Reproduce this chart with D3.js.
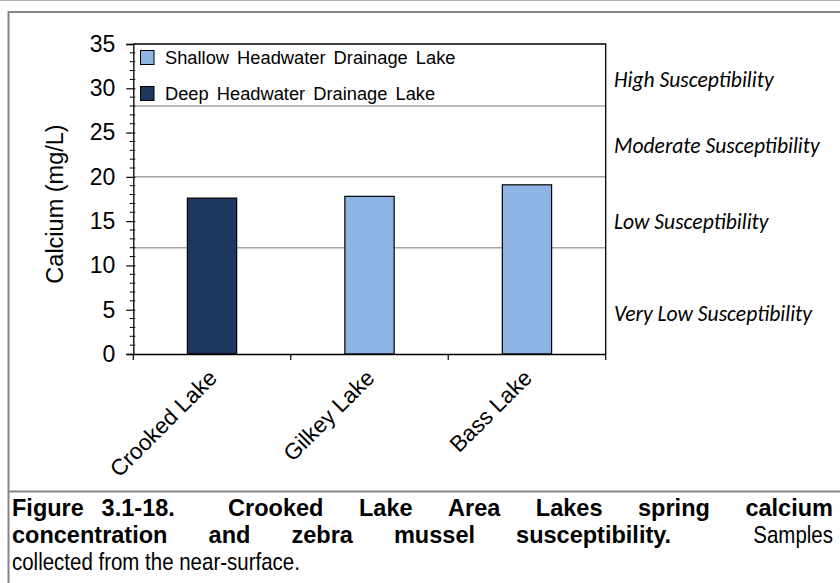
<!DOCTYPE html>
<html><head><meta charset="utf-8">
<script src="https://cdn.jsdelivr.net/npm/d3@7"></script>
<style>
html,body{margin:0;padding:0;background:#fff;}
svg{display:block;}
</style>
</head><body>
<svg id="chart" width="840" height="583"></svg>
<script>
// ---- data ----
const lakes = ["Crooked Lake", "Gilkey Lake", "Bass Lake"];
const calcium = [17.6, 17.8, 19.1];
const lakeTypes = ["Deep Headwater Drainage Lake", "Shallow Headwater Drainage Lake", "Shallow Headwater Drainage Lake"];
const legendItems = ["Shallow Headwater Drainage Lake", "Deep Headwater Drainage Lake"];
const typeColors = ["#8eb4e3", "#1c385e"];
const yTicks = [0, 5, 10, 15, 20, 25, 30, 35];
const thresholds = [12, 20, 28];
const zoneLabels = ["High Susceptibility", "Moderate Susceptibility", "Low Susceptibility", "Very Low Susceptibility"];
const zoneLabelAt = [31, 23.5, 15, 4.6];
const yTitle = "Calcium (mg/L)";
const captionLine1 = ["Figure", "3.1-18.", "Crooked", "Lake", "Area", "Lakes", "spring", "calcium"];
const captionLine1Gaps = [0.5, 1.5, 1, 1, 1, 1, 1];
const captionLine2 = ["concentration", "and", "zebra", "mussel", "susceptibility.", "Samples"];
const captionLine2Gaps = [1, 1, 1, 1, 2];
const captionLine3 = "collected from the near-surface.";

// ---- layout ----
const SANS = "'Liberation Sans', Arial, Arimo, sans-serif";
const svg = d3.select("#chart");
const plot = {left: 133.3, right: 605.7, top: 44, bottom: 354};
const y = d3.scaleLinear().domain([0, 35]).range([plot.bottom, plot.top]);
const x = d3.scaleBand().domain(lakes).range([plot.left, plot.right]).padding(0);
const color = d3.scaleOrdinal().domain(legendItems).range(typeColors);
const barFrac = 0.313;

// frames
svg.append("line").attr("x1", 0).attr("x2", 840).attr("y1", 0.5).attr("y2", 0.5)
  .attr("stroke", "#b0b0b0").attr("stroke-width", 1);
svg.append("line").attr("x1", 8.5).attr("x2", 840).attr("y1", 12).attr("y2", 12)
  .attr("stroke", "#858585").attr("stroke-width", 2);
svg.append("line").attr("x1", 8.5).attr("x2", 8.5).attr("y1", 11).attr("y2", 583)
  .attr("stroke", "#858585").attr("stroke-width", 2);
svg.append("line").attr("x1", 8.5).attr("x2", 840).attr("y1", 491.5).attr("y2", 491.5)
  .attr("stroke", "#858585").attr("stroke-width", 2);

// threshold lines
svg.append("g").selectAll("line").data(thresholds).join("line")
  .attr("x1", plot.left).attr("x2", plot.right)
  .attr("y1", d => y(d)).attr("y2", d => y(d))
  .attr("stroke", "#a6a6a6").attr("stroke-width", 1.5);

// plot border top/right
svg.append("path")
  .attr("d", `M${plot.left},${plot.top}H${plot.right}V${plot.bottom}`)
  .attr("fill", "none").attr("stroke", "#000").attr("stroke-width", 1.3);

// bars
svg.append("g").selectAll("rect").data(lakes).join("rect")
  .attr("x", d => x(d) + x.bandwidth() * (1 - barFrac) / 2)
  .attr("width", x.bandwidth() * barFrac)
  .attr("y", (d, i) => y(calcium[i]))
  .attr("height", (d, i) => y(0) - y(calcium[i]))
  .attr("fill", (d, i) => color(lakeTypes[i]))
  .attr("stroke", "#000").attr("stroke-width", 1.2);

// y axis
const yAxis = d3.axisLeft(y).tickValues(yTicks).tickSize(7).tickPadding(11);
const yg = svg.append("g").attr("transform", `translate(${plot.left},0)`).call(yAxis);
yg.select(".domain").attr("stroke", "#000").attr("stroke-width", 1.3);
yg.selectAll(".tick line").attr("stroke", "#000").attr("stroke-width", 1.2).attr("x2", -7).attr("x1", 2);
yg.selectAll(".tick text").attr("font-family", SANS)
  .attr("font-size", 23).attr("fill", "#000").attr("x", -18);
// minor ticks
const minor = d3.range(0, 36).filter(v => v % 5 !== 0);
svg.append("g").selectAll("line").data(minor).join("line")
  .attr("x1", plot.left - 3.5).attr("x2", plot.left + 2)
  .attr("y1", d => y(d)).attr("y2", d => y(d))
  .attr("stroke", "#000").attr("stroke-width", 1);

// x axis
const xAxis = d3.axisBottom(x).tickSize(0).tickFormat("");
const xg = svg.append("g").attr("transform", `translate(0,${plot.bottom})`).call(xAxis);
xg.select(".domain").attr("stroke", "#000").attr("stroke-width", 1.3);
// category separators
const seps = [plot.left, ...lakes.slice(1).map(d => x(d)), plot.right];
svg.append("g").selectAll("line").data(seps).join("line")
  .attr("x1", d => d).attr("x2", d => d)
  .attr("y1", plot.bottom).attr("y2", plot.bottom + 6)
  .attr("stroke", "#000").attr("stroke-width", 1.2);
// rotated labels
svg.append("g").selectAll("text").data(lakes).join("text")
  .attr("transform", d => `translate(${x(d) + x.bandwidth() / 2 - 5},${plot.bottom + 14}) rotate(-45)`)
  .attr("text-anchor", "end").attr("dy", "0.71em")
  .attr("font-family", SANS).attr("font-size", 22.5)
  .text(d => d);

// y title
svg.append("text")
  .attr("transform", `translate(55,${(plot.top + plot.bottom) / 2 + 5}) rotate(-90)`)
  .attr("text-anchor", "middle").attr("dy", "0.35em")
  .attr("font-family", SANS).attr("font-size", 23.5)
  .text(yTitle);

// legend
const lg = svg.append("g").selectAll("g").data(legendItems).join("g")
  .attr("transform", (d, i) => `translate(140.5,${50.5 + i * 36})`);
lg.append("rect").attr("width", 13.5).attr("height", 14)
  .attr("fill", d => color(d)).attr("stroke", "#000").attr("stroke-width", 1);
lg.append("text").attr("x", 24.5).attr("y", 13.5)
  .attr("font-family", SANS).attr("font-size", 18.3).attr("word-spacing", 3)
  .text(d => d);

// zone labels (italic Calibri-like), sized to the reference widths
const zoneFont = "Carlito, Lato, 'Open Sans', sans-serif";
const zoneTargetTotal = 718;
const zt = svg.append("g").selectAll("text").data(zoneLabels).join("text")
  .attr("x", 614).attr("y", (d, i) => y(zoneLabelAt[i]))
  .attr("dy", "0.35em")
  .attr("font-family", zoneFont)
  .attr("font-style", "italic").attr("font-size", 20)
  .text(d => d);
let zsum = 0; zt.each(function () { zsum += this.getComputedTextLength(); });
zt.attr("font-size", 20 * zoneTargetTotal / zsum);

// caption (justified)
const capSize = 24, sxBold = 0.98;
const probe = svg.append("text").attr("font-family", SANS).attr("font-size", capSize).text(captionLine3);
const sxReg = 288 / probe.node().getComputedTextLength();
probe.remove();
function justify(words, gaps, yPos, weights, x0, x1) {
  const g = svg.append("g");
  const nodes = words.map((w, i) => g.append("text")
    .attr("font-family", SANS).attr("font-size", capSize)
    .attr("font-weight", weights[i]).text(w));
  const scales = weights.map(wt => wt === "bold" ? sxBold : sxReg);
  const widths = nodes.map((n, i) => n.node().getComputedTextLength() * scales[i]);
  const unit = (x1 - x0 - d3.sum(widths)) / d3.sum(gaps);
  let cx = x0;
  nodes.forEach((n, i) => {
    n.attr("transform", `translate(${cx},${yPos}) scale(${scales[i]},1)`);
    cx += widths[i] + (gaps[i] || 0) * unit;
  });
}
justify(captionLine1, captionLine1Gaps, 516, captionLine1.map(() => "bold"), 12, 833);
justify(captionLine2, captionLine2Gaps, 543, captionLine2.map((w, i) => i < captionLine2.length - 1 ? "bold" : "normal"), 12, 833);
svg.append("text").attr("transform", `translate(12,570) scale(${sxReg},1)`)
  .attr("font-family", SANS).attr("font-size", capSize)
  .text(captionLine3);
</script>
</body></html>
